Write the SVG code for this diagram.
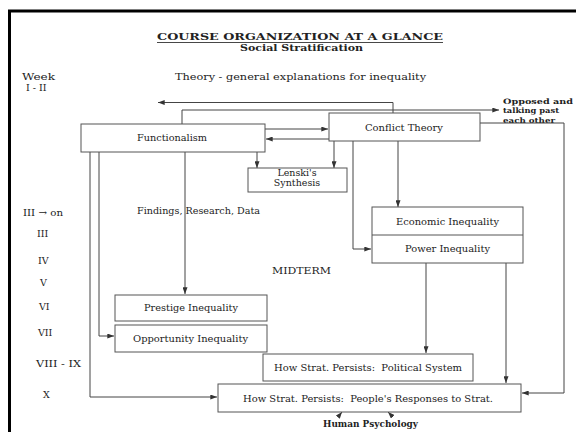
<svg xmlns="http://www.w3.org/2000/svg" width="576" height="432" viewBox="0 0 576 432">
  <style>
    text { font-family: "DejaVu Serif", "Liberation Serif", serif; fill: #222; font-size: 9.5px; }
    .b { font-weight: bold; }
    .note { font-size: 7.5px; font-weight: bold; }
    .box { fill: #fff; stroke: #555; stroke-width: 1; }
    .ln { fill: none; stroke: #444; stroke-width: 1; }
    .mid { text-anchor: middle; }
  </style>
  <defs>
    <marker id="ah" viewBox="0 0 8 6" refX="8" refY="3" markerWidth="7" markerHeight="5" markerUnits="userSpaceOnUse" orient="auto">
      <path d="M0,0 L8,3 L0,6 z" fill="#333"/>
    </marker>
  </defs>

  <rect width="576" height="432" fill="#fff"/>
  <!-- page frame -->
  <path d="M9.5,432 V11 H576" fill="none" stroke="#000" stroke-width="3"/>

  <!-- heading -->
  <text class="b" x="157" y="40" font-size="10.5" textLength="286" lengthAdjust="spacingAndGlyphs">COURSE ORGANIZATION AT A GLANCE</text>
  <line x1="157" y1="42.5" x2="443" y2="42.5" stroke="#333" stroke-width="0.9"/>
  <text class="b" x="240" y="51" textLength="123" lengthAdjust="spacingAndGlyphs">Social Stratification</text>
  <text x="175" y="80" font-size="10" textLength="251" lengthAdjust="spacingAndGlyphs">Theory - general explanations for inequality</text>

  <!-- week column -->
  <g id="weeks">
    <text x="22" y="80" textLength="33" lengthAdjust="spacingAndGlyphs">Week</text>
    <text x="26" y="91" font-size="8.5">I - II</text>
    <text x="23" y="216" font-size="8.5" textLength="40" lengthAdjust="spacingAndGlyphs">III → on</text>
    <text x="37" y="237" font-size="8.5">III</text>
    <text x="38" y="264" font-size="8.5">IV</text>
    <text x="40" y="286" font-size="8.5">V</text>
    <text x="39" y="310" font-size="8.5">VI</text>
    <text x="38" y="336" font-size="8.5">VII</text>
    <text x="36" y="367" font-size="8.5" textLength="45" lengthAdjust="spacingAndGlyphs">VIII - IX</text>
    <text x="43" y="398" font-size="8.5">X</text>
  </g>

  <text class="note" x="503" y="103.5" textLength="70" lengthAdjust="spacingAndGlyphs">Opposed and</text>
  <text class="note" x="503" y="113" textLength="56" lengthAdjust="spacingAndGlyphs">talking past</text>
  <text class="note" x="503" y="122.5" textLength="52" lengthAdjust="spacingAndGlyphs">each other</text>
  <text x="137" y="214" textLength="123" lengthAdjust="spacingAndGlyphs">Findings, Research, Data</text>
  <text x="272" y="274" textLength="59" lengthAdjust="spacingAndGlyphs">MIDTERM</text>

  <!-- connectors -->
  <g id="connectors" class="ln" marker-end="url(#ah)">
    <path d="M393,113 V102.5 H158"/>
    <path d="M182,124 V110 H499"/>
    <path d="M265,129 H328"/>
    <path d="M329,139 H266"/>
    <path d="M257,152 V168"/>
    <path d="M334,141 V168"/>
    <path d="M398,141 V207"/>
    <path d="M353,141 V249 H371"/>
    <path d="M480,123 H564 V393 H522"/>
    <path d="M185,152 V294"/>
    <path d="M99,152 V336 H114"/>
    <path d="M90,152 V397 H217"/>
    <path d="M426,263 V353"/>
    <path d="M506,263 V383"/>
    <path d="M338,417 L342,412"/>
    <path d="M393,417 L388,412"/>
  </g>

  <!-- nodes -->
  <g id="functionalism">
    <rect class="box" x="81" y="124" width="184" height="28"/>
    <text class="mid" x="172" y="141" textLength="70" lengthAdjust="spacingAndGlyphs">Functionalism</text>
  </g>
  <g id="conflict-theory">
    <rect class="box" x="329" y="113" width="151" height="28"/>
    <text class="mid" x="404" y="131" textLength="78" lengthAdjust="spacingAndGlyphs">Conflict Theory</text>
  </g>
  <g id="lenski">
    <rect class="box" x="248" y="168" width="99" height="24"/>
    <text class="mid" x="297" y="175.5" font-size="9">Lenski's</text>
    <text class="mid" x="297" y="186" font-size="9">Synthesis</text>
  </g>
  <g id="economic-power">
    <rect class="box" x="372" y="207" width="151" height="56"/>
    <line x1="372" y1="235" x2="523" y2="235" stroke="#555" stroke-width="1"/>
    <text class="mid" x="447.5" y="225" textLength="103" lengthAdjust="spacingAndGlyphs">Economic Inequality</text>
    <text class="mid" x="447.5" y="252" textLength="85" lengthAdjust="spacingAndGlyphs">Power Inequality</text>
  </g>
  <g id="prestige">
    <rect class="box" x="115" y="295" width="152" height="26"/>
    <text class="mid" x="191" y="311" textLength="94" lengthAdjust="spacingAndGlyphs">Prestige Inequality</text>
  </g>
  <g id="opportunity">
    <rect class="box" x="115" y="325" width="152" height="27"/>
    <text class="mid" x="190.5" y="342" textLength="115" lengthAdjust="spacingAndGlyphs">Opportunity Inequality</text>
  </g>
  <g id="political">
    <rect class="box" x="263" y="354" width="210" height="27"/>
    <text x="274" y="371" textLength="188" lengthAdjust="spacingAndGlyphs" xml:space="preserve">How Strat. Persists:  Political System</text>
  </g>
  <g id="responses">
    <rect class="box" x="218" y="384" width="303" height="28"/>
    <text x="243" y="402" textLength="250" lengthAdjust="spacingAndGlyphs" xml:space="preserve">How Strat. Persists:  People's Responses to Strat.</text>
  </g>
  <text class="b" x="323" y="427" font-size="9" textLength="95" lengthAdjust="spacingAndGlyphs">Human Psychology</text>
</svg>
